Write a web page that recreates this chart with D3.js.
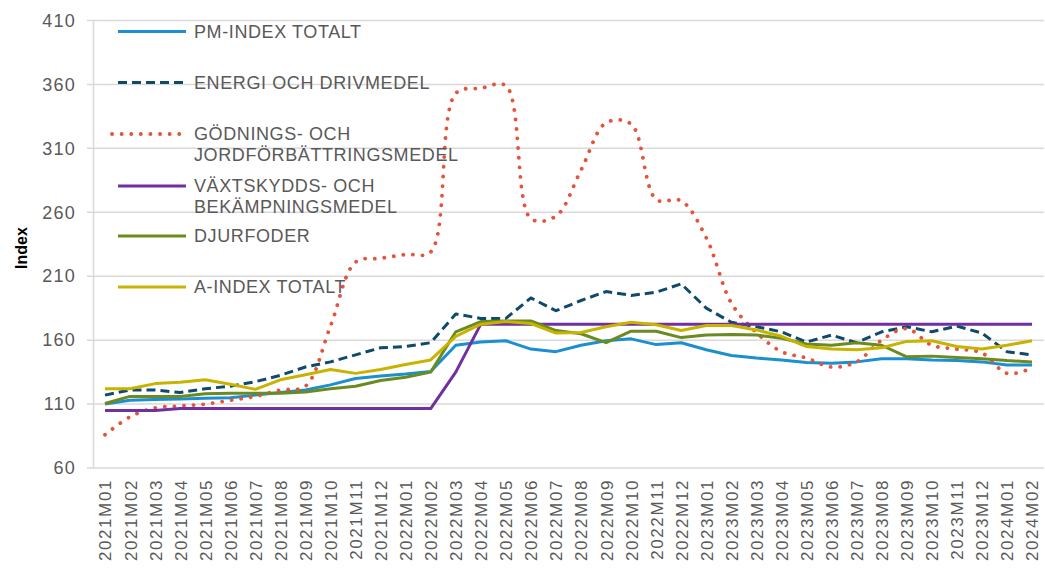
<!DOCTYPE html>
<html>
<head>
<meta charset="utf-8">
<script src="https://cdn.jsdelivr.net/npm/d3@7"></script>
<style>
  html, body { margin: 0; padding: 0; background: #fff; }
  text { font-family: "Liberation Sans", Arial, sans-serif; }
</style>
</head>
<body>
<div id="chart"></div>
<script>
// Månader (kategorier)
const manader = [
  '2021M01','2021M02','2021M03','2021M04','2021M05','2021M06','2021M07','2021M08','2021M09','2021M10','2021M11','2021M12',
  '2022M01','2022M02','2022M03','2022M04','2022M05','2022M06','2022M07','2022M08','2022M09','2022M10','2022M11','2022M12',
  '2023M01','2023M02','2023M03','2023M04','2023M05','2023M06','2023M07','2023M08','2023M09','2023M10','2023M11','2023M12',
  '2024M01','2024M02'
];

const pmIndex = [110, 113, 113.5, 114, 114.5, 115, 117, 119, 121, 125, 130, 132,
  133.5, 135.5, 156, 158.5, 159.5, 153, 151, 156, 159.5, 161, 156.5, 158,
  152.5, 148, 146, 144.5, 142.5, 142, 143, 145.5, 145.5, 144.5, 144, 143,
  140.5, 140.5];

const energi = [117, 121, 121, 119, 122, 124, 127.5, 132.5, 139, 143, 148.5, 154,
  155, 158, 180.5, 177, 177, 193, 183, 191, 198, 195, 197.5, 204,
  185, 174, 170.5, 166.5, 158.5, 164, 158, 166.5, 170.5, 166.5, 171, 165.5,
  151, 148.5];

const godning = [86, 100, 107, 108.5, 110, 113, 116, 121, 124, 171, 221, 224,
  227, 229, 353, 357, 359, 255, 257, 293, 330, 329, 270, 269,
  240, 189, 166, 151, 146, 139, 143, 160, 169, 156, 153, 150,
  134, 138];

const vaxtskydd = [105, 105, 105, 106.5, 106.5, 106.5, 106.5, 106.5, 106.5, 106.5, 106.5, 106.5,
  106.5, 106.5, 135, 172.5, 172.5, 172.5, 172.5, 172.5, 172.5, 172.5, 172.5, 172.5,
  172.5, 172.5, 172.5, 172.5, 172.5, 172.5, 172.5, 172.5, 172.5, 172.5, 172.5, 172.5,
  172.5, 172.5];

const djurfoder = [110.5, 116, 116, 116, 118, 118.5, 118.5, 118.5, 119.5, 122, 124, 128.5,
  131, 135, 166.5, 174.5, 175, 175, 167.5, 165, 158, 167, 167, 162,
  164, 164.5, 164, 161.5, 157, 156, 158, 156, 147, 147.5, 146.5, 145.5,
  144, 143];

const aIndex = [122, 122, 126, 127, 129, 125.5, 121.5, 129, 133, 137, 134, 137,
  141, 144.5, 163, 172.5, 174.5, 173, 165.5, 166, 170.5, 174, 172, 167.5,
  171.5, 171.5, 168, 163, 155, 153, 152.5, 154, 159, 159.5, 155, 153,
  156, 159.5];

const yTicks = [60, 110, 160, 210, 260, 310, 360, 410];

const serier = [
  { namn: ['PM-INDEX TOTALT'], varden: pmIndex, farg: '#1b8fd0', streck: null, mjuk: false },
  { namn: ['ENERGI OCH DRIVMEDEL'], varden: energi, farg: '#0f4a6b', streck: '9 5', mjuk: false },
  { namn: ['GÖDNINGS- OCH', 'JORDFÖRBÄTTRINGSMEDEL'], varden: godning, farg: '#e5533a', streck: '0.1 9.5', mjuk: true },
  { namn: ['VÄXTSKYDDS- OCH', 'BEKÄMPNINGSMEDEL'], varden: vaxtskydd, farg: '#7030a0', streck: null, mjuk: false },
  { namn: ['DJURFODER'], varden: djurfoder, farg: '#6b8a1f', streck: null, mjuk: false },
  { namn: ['A-INDEX TOTALT'], varden: aIndex, farg: '#c7b300', streck: null, mjuk: false }
];

const bredd = 1045, hojd = 570;
const plot = { vanster: 93, hoger: 1044, topp: 20.5, botten: 468 };

const svg = d3.select('#chart').append('svg')
  .attr('width', bredd).attr('height', hojd)
  .style('background', '#fff');

const x = d3.scalePoint().domain(manader).range([105, 1032]);
const y = d3.scaleLinear().domain([60, 410]).range([plot.botten, plot.topp]);

// Rutnät
svg.append('g').selectAll('line').data(yTicks).enter().append('line')
  .attr('x1', plot.vanster - 6).attr('x2', plot.hoger)
  .attr('y1', d => y(d)).attr('y2', d => y(d))
  .attr('stroke', '#d9d9d9').attr('stroke-width', 1.5);

// Y-axel
const yAxel = svg.append('g')
  .attr('transform', `translate(${plot.vanster},0)`)
  .call(d3.axisLeft(y).tickValues(yTicks).tickSize(0).tickPadding(17));
yAxel.select('.domain').attr('stroke', '#d9d9d9').attr('stroke-width', 1.5);
yAxel.selectAll('text')
  .attr('fill', '#595959')
  .style('font-size', '18px')
  .style('letter-spacing', '1.2px')
  .style('font-family', '"Liberation Sans", Arial, sans-serif');

// X-axel
const xAxel = svg.append('g')
  .attr('transform', `translate(0,${plot.botten})`)
  .call(d3.axisBottom(x).tickSize(0).tickPadding(0));
xAxel.select('.domain').remove();
xAxel.selectAll('text')
  .attr('fill', '#595959')
  .attr('transform', 'rotate(-90)')
  .attr('text-anchor', 'end')
  .attr('x', -11)
  .attr('y', 0)
  .attr('dy', '0.35em')
  .style('font-size', '17px')
  .style('letter-spacing', '1.6px')
  .style('font-family', '"Liberation Sans", Arial, sans-serif');

// Axeltitel
svg.append('text')
  .attr('transform', 'translate(27,248) rotate(-90)')
  .attr('text-anchor', 'middle')
  .style('font-size', '16px')
  .style('font-weight', 'bold')
  .attr('fill', '#000')
  .text('Index');

// Linjer
const linje = d3.line().x((d, i) => x(manader[i])).y(d => y(d));
const mjukLinje = d3.line().x((d, i) => x(manader[i])).y(d => y(d)).curve(d3.curveCatmullRom.alpha(0.5));

serier.forEach(s => {
  const p = svg.append('path')
    .datum(s.varden)
    .attr('d', s.mjuk ? mjukLinje : linje)
    .attr('fill', 'none')
    .attr('stroke', s.farg)
    .attr('stroke-width', s.mjuk ? 3.8 : 3)
    .attr('stroke-linejoin', 'round');
  if (s.streck) p.attr('stroke-dasharray', s.streck);
  if (s.mjuk) p.attr('stroke-linecap', 'round');
});

// Förklaring
const radY = [31.5, 82.5, 134, 186, 236, 287];
const legend = svg.append('g');
serier.forEach((s, i) => {
  const g = legend.append('g').attr('transform', `translate(0,${radY[i]})`);
  const l = g.append('line')
    .attr('x1', 118).attr('x2', 186).attr('y1', 0).attr('y2', 0)
    .attr('stroke', s.farg)
    .attr('stroke-width', s.mjuk ? 3.8 : 3);
  if (s.streck) l.attr('stroke-dasharray', s.streck);
  if (s.mjuk) l.attr('stroke-linecap', 'round').attr('x1', 112);
  s.namn.forEach((rad, j) => {
    g.append('text')
      .attr('x', 194).attr('y', j * 20.5)
      .attr('dy', '0.36em')
      .attr('fill', '#595959')
      .style('font-size', '18px')
      .style('letter-spacing', '0.6px')
      .text(rad);
  });
});
</script>
</body>
</html>
